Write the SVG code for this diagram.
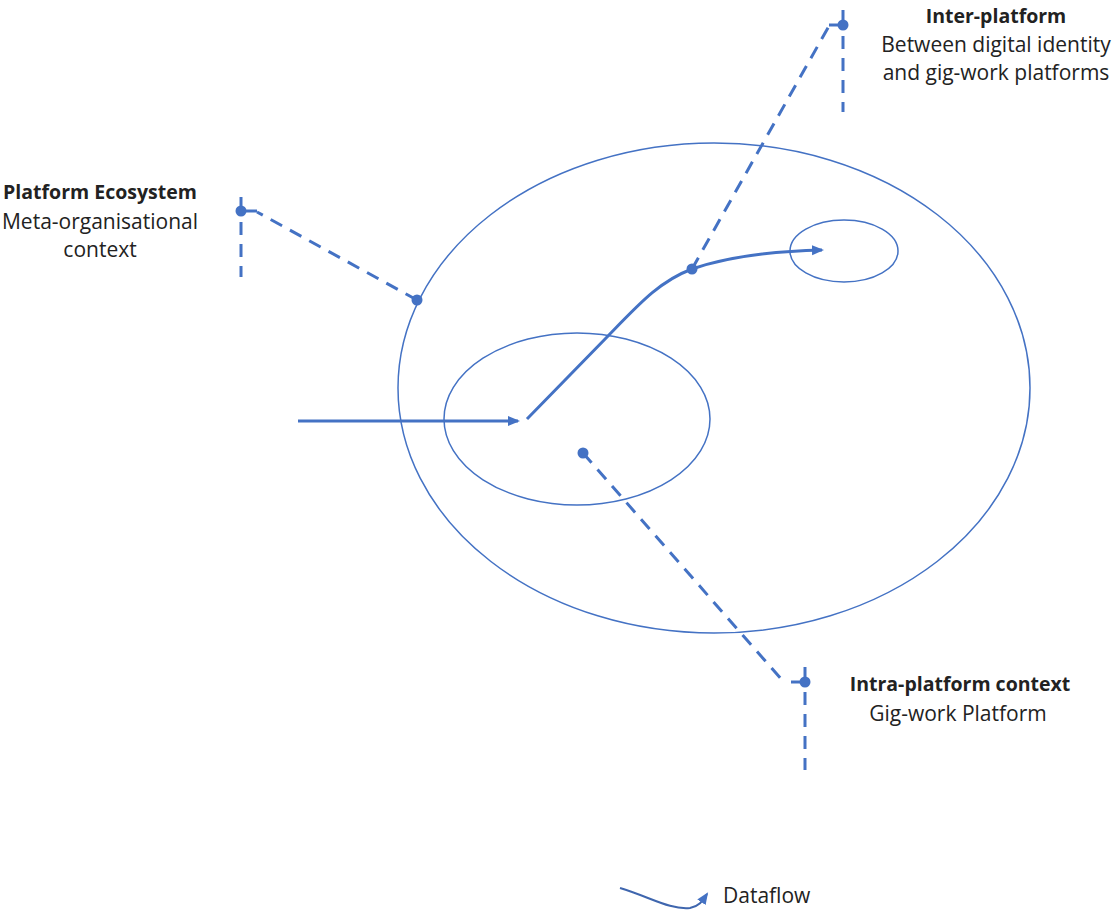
<svg xmlns="http://www.w3.org/2000/svg" width="1115" height="915" viewBox="0 0 1115 915">
<style>
.ring{fill:none;stroke:#4472C4;stroke-width:1.5}
.flow{fill:none;stroke:#4472C4;stroke-width:3}
.dash{fill:none;stroke:#4472C4;stroke-width:3;stroke-dasharray:13 9}
.solid{fill:none;stroke:#4472C4;stroke-width:3}
.dot{fill:#4472C4}
.t{font-family:"Open Sans","Liberation Sans",sans-serif;font-size:21px;fill:#222;text-anchor:middle}
.b{font-weight:bold;font-size:19.5px}
</style>
<defs>
<marker id="ah" markerWidth="14" markerHeight="12" refX="10" refY="6" orient="auto" markerUnits="userSpaceOnUse">
<path d="M0,1 L12,6 L0,11 Z" fill="#4472C4"/>
</marker>
</defs>
<rect width="1115" height="915" fill="#fff"/>
<g id="ecosystem"><ellipse class="ring" cx="714" cy="388" rx="316" ry="245"/></g>
<g id="gigwork"><ellipse class="ring" cx="577" cy="419" rx="133" ry="86"/></g>
<g id="identity"><ellipse class="ring" cx="844" cy="251" rx="54" ry="31"/></g>
<g id="connectors">
<path class="flow" d="M298,421 L518,421" marker-end="url(#ah)"/>
<path class="flow" d="M527,419 L608,336 C640,303 660,281 692,269 C730,256 780,251 822,250" marker-end="url(#ah)"/>
<path class="dash" d="M417,300 L257,212"/>
<path class="solid" d="M257,211 L241,211"/>
<circle class="dot" cx="417" cy="300" r="5.5"/>
<circle class="dot" cx="241" cy="211" r="5.5"/>
<path class="solid" d="M241,197 L241,215"/>
<path class="dash" d="M241,222 L241,277"/>
<path class="dash" d="M692,269 L829,26"/>
<path class="solid" d="M829,25 L843,25"/>
<circle class="dot" cx="692" cy="269" r="5.5"/>
<circle class="dot" cx="843" cy="25" r="5.5"/>
<path class="solid" d="M843,10 L843,29"/>
<path class="dash" d="M843,36 L843,112"/>
<path class="dash" d="M583,453 L782,680"/>
<path class="solid" d="M791,682 L805,682"/>
<circle class="dot" cx="583" cy="453" r="5.5"/>
<circle class="dot" cx="805" cy="682" r="5.5"/>
<path class="solid" d="M805,667 L805,685"/>
<path class="dash" d="M805,692 L805,770"/>
</g>
<g id="label-inter">
<text class="t b" x="996" y="23">Inter-platform</text>
<text class="t" x="996" y="52">Between digital identity</text>
<text class="t" x="996" y="80">and gig-work platforms</text>
</g>
<g id="label-ecosystem">
<text class="t b" x="100" y="199">Platform Ecosystem</text>
<text class="t" x="100" y="229">Meta-organisational</text>
<text class="t" x="100" y="257">context</text>
</g>
<g id="label-intra">
<text class="t b" x="960" y="691">Intra-platform context</text>
<text class="t" x="958" y="721">Gig-work Platform</text>
</g>
<g id="legend">
<path fill="none" stroke="#3F66AE" stroke-width="2" d="M620,888 C650,897 670,910 690,908 C700,906 703,900 707,894" marker-end="url(#ah)"/>
<text class="t" x="723" y="903" style="text-anchor:start">Dataflow</text>
</g>
</svg>
